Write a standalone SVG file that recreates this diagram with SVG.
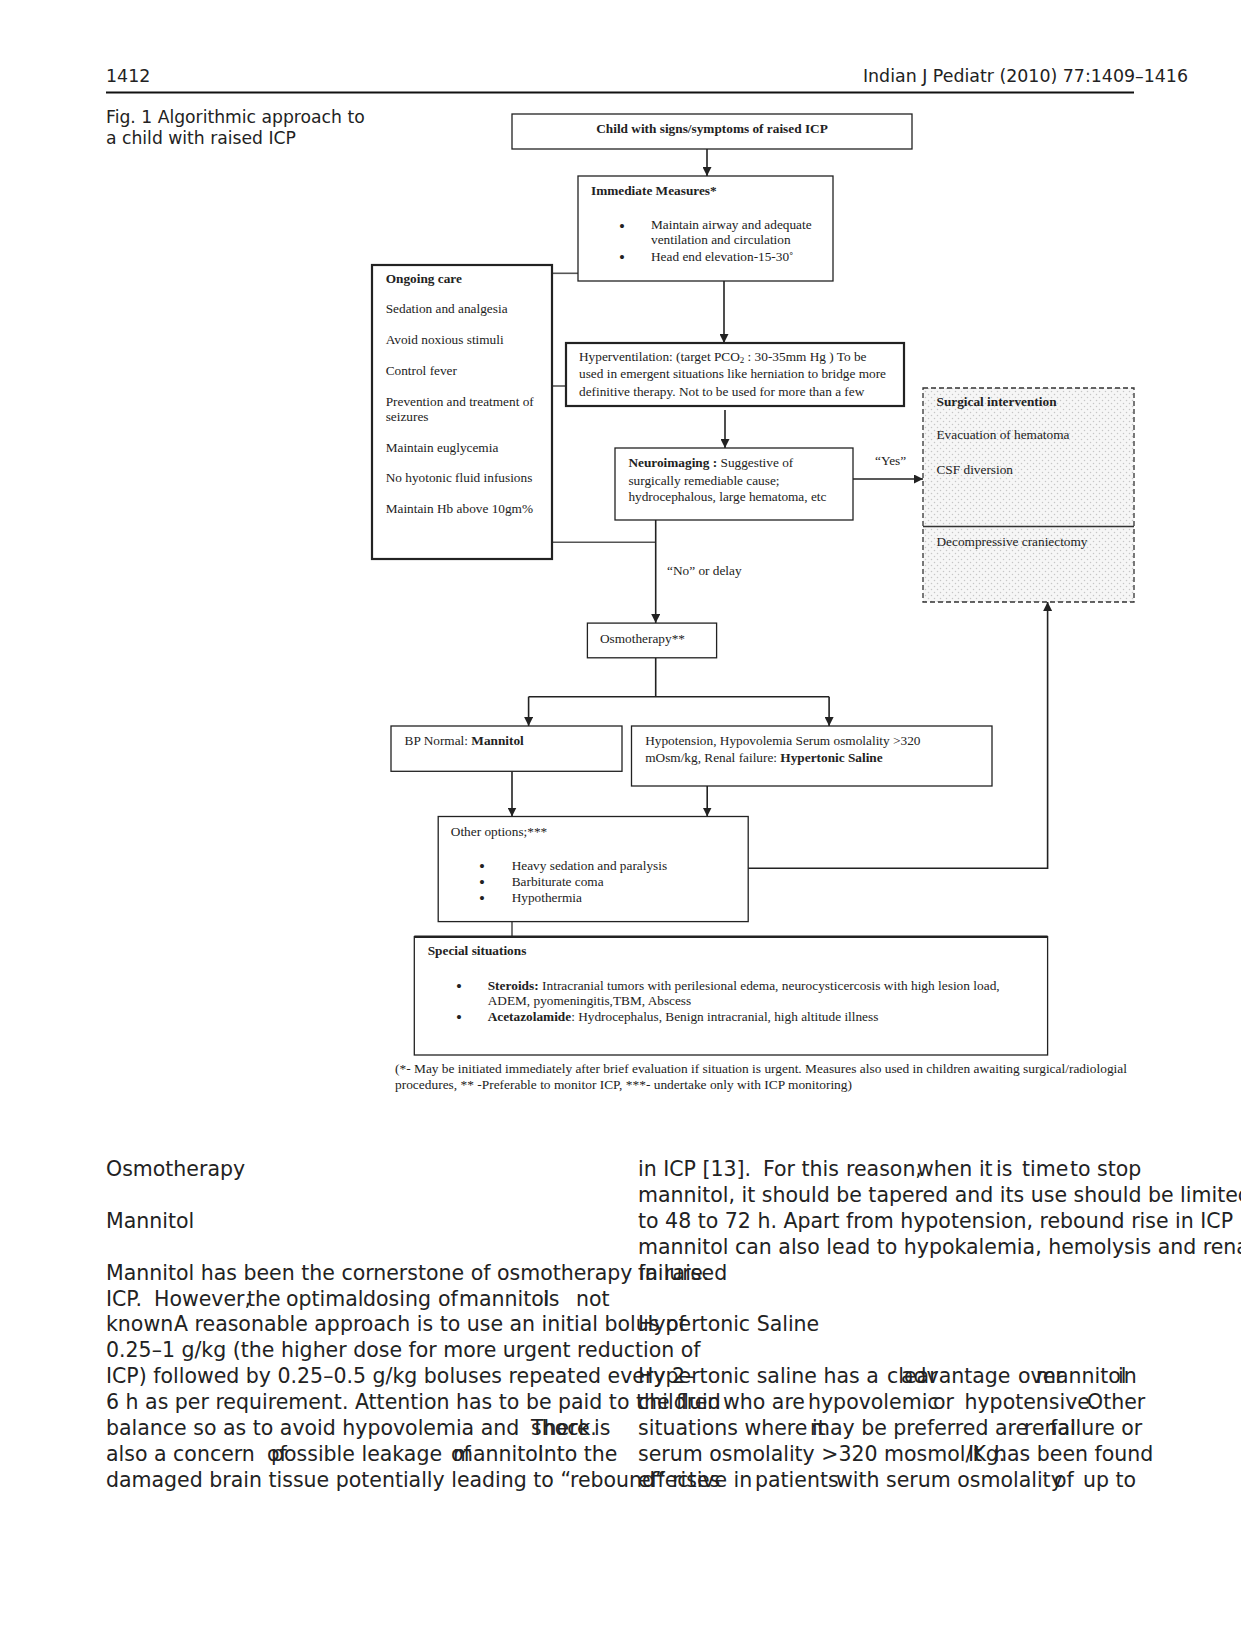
<svg xmlns="http://www.w3.org/2000/svg" width="1241" height="1648" viewBox="0 0 1241 1648">
<style>
.hdr{font-family:"DejaVu Sans",sans-serif;font-size:17.4px;fill:#222}
.cap{font-family:"DejaVu Sans",sans-serif;font-size:17.2px;fill:#222}
.body{font-family:"DejaVu Sans",sans-serif;font-size:20.5px;fill:#222}
.t{font-family:"Liberation Serif",serif;font-size:13.3px;fill:#222}
.bu{font-family:"Liberation Serif",serif;font-size:17px;fill:#222}
.b{font-weight:bold}
.box{fill:#fff;stroke:#222;stroke-width:1.3}
.boxk{fill:#fff;stroke:#222;stroke-width:2.2}
.ln{fill:none;stroke:#222;stroke-width:1.6}
.lg{fill:none;stroke:#555;stroke-width:1.6}
.arr{fill:none;stroke:#222;stroke-width:1.6;marker-end:url(#ah)}
</style>
<defs>
<marker id="ah" viewBox="0 0 10 10" refX="10" refY="5" markerWidth="9" markerHeight="9" markerUnits="userSpaceOnUse" orient="auto"><path d="M0,0 L10,5 L0,10 z" fill="#222"/></marker>
<pattern id="dots" width="6" height="6" patternUnits="userSpaceOnUse"><rect width="6" height="6" fill="#f6f6f6"/><circle cx="1.5" cy="1.5" r="0.75" fill="#c6c6c6"/><circle cx="4.5" cy="4.5" r="0.75" fill="#c6c6c6"/></pattern>
</defs>
<rect width="1241" height="1648" fill="#fff"/>

<g id="header">
<text class="hdr" x="106" y="82">1412</text>
<text class="hdr" x="1188" y="82" text-anchor="end">Indian J Pediatr (2010) 77:1409–1416</text>
<line x1="106" y1="92.5" x2="1134" y2="92.5" stroke="#111" stroke-width="2"/>
<text class="cap" x="106" y="123">Fig. 1 Algorithmic approach to</text>
<text class="cap" x="106" y="144">a child with raised ICP</text>
</g>

<g id="connectors">
<line class="arr" x1="707" y1="149" x2="707" y2="176"/>
<line class="lg" x1="552" y1="273.3" x2="578" y2="273.3"/>
<line class="arr" x1="724" y1="281" x2="724" y2="343"/>
<line class="lg" x1="552" y1="386" x2="566" y2="386"/>
<line class="arr" x1="725" y1="410" x2="725" y2="448"/>
<line class="arr" x1="853" y1="479" x2="923" y2="479"/>
<text class="t" x="875" y="465">“Yes”</text>
<line class="lg" x1="552" y1="542.3" x2="655.7" y2="542.3"/>
<line class="arr" x1="655.7" y1="520" x2="655.7" y2="623"/>
<text class="t" x="667" y="575">“No” or delay</text>
<path class="ln" d="M655.7,657.8 V696.7 M528.6,696.7 H829.1"/>
<line class="arr" x1="528.6" y1="696.7" x2="528.6" y2="726"/>
<line class="arr" x1="829.1" y1="696.7" x2="829.1" y2="726"/>
<line class="arr" x1="512" y1="771.3" x2="512" y2="816.5"/>
<line class="arr" x1="707.2" y1="786" x2="707.2" y2="816.5"/>
<path class="arr" d="M748.2,868.3 H1047.6 V602"/>
<line class="lg" x1="512" y1="921.6" x2="512" y2="936.7"/>
</g>

<g id="n-start">
<rect class="box" x="512" y="114" width="400" height="35"/>
<text class="t b" x="712" y="133" text-anchor="middle">Child with signs/symptoms of raised ICP</text>
</g>

<g id="n-immediate">
<rect class="box" x="578" y="176" width="255" height="105"/>
<text class="t b" x="591" y="194.5">Immediate Measures*</text>
<text class="bu" x="619" y="231.5">•</text>
<text class="t" x="651" y="229.3">Maintain airway and adequate</text>
<text class="t" x="651" y="244">ventilation and circulation</text>
<text class="bu" x="619" y="263">•</text>
<text class="t" x="651" y="261">Head end elevation-15-30˚</text>
</g>

<g id="n-ongoing">
<rect class="boxk" x="372" y="265" width="180" height="294"/>
<text class="t b" x="385.7" y="283">Ongoing care</text>
<text class="t" x="385.7" y="313.3">Sedation and analgesia</text>
<text class="t" x="385.7" y="344.3">Avoid noxious stimuli</text>
<text class="t" x="385.7" y="375">Control fever</text>
<text class="t" x="385.7" y="405.7">Prevention and treatment of</text>
<text class="t" x="385.7" y="421">seizures</text>
<text class="t" x="385.7" y="451.7">Maintain euglycemia</text>
<text class="t" x="385.7" y="482.3">No hyotonic fluid infusions</text>
<text class="t" x="385.7" y="513.3">Maintain Hb above 10gm%</text>
</g>

<g id="n-hyper">
<rect class="boxk" x="566" y="343" width="338" height="63" stroke-width="1.8"/>
<text class="t" x="579" y="361">Hyperventilation: (target PCO<tspan font-size="9" dy="2">2</tspan><tspan dy="-2"> : 30-35mm Hg ) To be</tspan></text>
<text class="t" x="579" y="378.3">used in emergent situations like herniation to bridge more</text>
<text class="t" x="579" y="395.7">definitive therapy. Not to be used for more than a few</text>
</g>

<g id="n-neuro">
<rect class="box" x="615" y="448" width="238" height="72"/>
<text class="t" x="628.4" y="466.6"><tspan class="b">Neuroimaging :</tspan> Suggestive of</text>
<text class="t" x="628.4" y="484.5">surgically remediable cause;</text>
<text class="t" x="628.4" y="501.3">hydrocephalous, large hematoma, etc</text>
</g>

<g id="n-surgical">
<rect x="923" y="388" width="211" height="214" fill="url(#dots)" stroke="#333" stroke-width="1.3" stroke-dasharray="5,3"/>
<line x1="923" y1="526.5" x2="1134" y2="526.5" stroke="#333" stroke-width="1.3"/>
<text class="t b" x="936.5" y="405.7">Surgical intervention</text>
<text class="t" x="936.5" y="439.3">Evacuation of hematoma</text>
<text class="t" x="936.5" y="474.3">CSF diversion</text>
<text class="t" x="936.5" y="545.7">Decompressive craniectomy</text>
</g>

<g id="n-osmo">
<rect class="box" x="587.4" y="623.1" width="129.2" height="34.7"/>
<text class="t" x="600" y="642.5">Osmotherapy**</text>
</g>

<g id="n-bp">
<rect class="box" x="391" y="726" width="231" height="45.3"/>
<text class="t" x="404.6" y="745.1">BP Normal: <tspan class="b">Mannitol</tspan></text>
</g>

<g id="n-hypo">
<rect class="box" x="631.5" y="726" width="360.5" height="60"/>
<text class="t" x="645.2" y="745.1">Hypotension, Hypovolemia Serum osmolality &gt;320</text>
<text class="t" x="645.2" y="762">mOsm/kg, Renal failure: <tspan class="b">Hypertonic Saline</tspan></text>
</g>

<g id="n-other">
<rect class="box" x="438.2" y="816.5" width="310" height="105.1"/>
<text class="t" x="450.8" y="835.5">Other options;***</text>
<text class="bu" x="479" y="872">•</text>
<text class="t" x="511.7" y="870">Heavy sedation and paralysis</text>
<text class="bu" x="479" y="888">•</text>
<text class="t" x="511.7" y="886">Barbiturate coma</text>
<text class="bu" x="479" y="903.7">•</text>
<text class="t" x="511.7" y="901.7">Hypothermia</text>
</g>

<g id="n-special">
<rect class="box" x="414.3" y="936.7" width="633.3" height="118.3"/>
<line x1="414.3" y1="936.7" x2="1047.6" y2="936.7" stroke="#222" stroke-width="2.6"/>
<text class="t b" x="427.7" y="955">Special situations</text>
<text class="bu" x="456" y="992">•</text>
<text class="t" x="487.7" y="990" textLength="512" lengthAdjust="spacingAndGlyphs"><tspan class="b">Steroids:</tspan> Intracranial tumors with perilesional edema, neurocysticercosis with high lesion load,</text>
<text class="t" x="487.7" y="1005">ADEM, pyomeningitis,TBM, Abscess</text>
<text class="bu" x="456" y="1023">•</text>
<text class="t" x="487.7" y="1021"><tspan class="b">Acetazolamide</tspan>: Hydrocephalus, Benign intracranial, high altitude illness</text>
</g>

<g id="footnote">
<text class="t" x="395" y="1073" textLength="732" lengthAdjust="spacingAndGlyphs">(*- May be initiated immediately after brief evaluation if situation is urgent. Measures also used in children awaiting surgical/radiologial</text>
<text class="t" x="395" y="1088.7" textLength="457" lengthAdjust="spacingAndGlyphs">procedures, ** -Preferable to monitor ICP, ***- undertake only with ICP monitoring)</text>
</g>

<g id="body-left">
<text class="body" x="106" y="1176">Osmotherapy</text>
<text class="body" x="106" y="1227.8">Mannitol</text>
<text class="body" x="106" y="1279.6">Mannitol has been the cornerstone of osmotherapy in raised</text>
<text class="body" y="1305.5"><tspan x="106">ICP.</tspan><tspan x="154">However,</tspan><tspan x="247">the</tspan><tspan x="286">optimal</tspan><tspan x="363">dosing</tspan><tspan x="438">of</tspan><tspan x="459">mannitol</tspan><tspan x="543">is</tspan><tspan x="576">not</tspan></text>
<text class="body" y="1331.4"><tspan x="106">known</tspan><tspan x="174">A reasonable approach is to use an initial bolus of</tspan></text>
<text class="body" x="106" y="1357.3">0.25–1 g/kg (the higher dose for more urgent reduction of</text>
<text class="body" x="106" y="1383.2">ICP) followed by 0.25–0.5 g/kg boluses repeated every 2–</text>
<text class="body" x="106" y="1409.1">6 h as per requirement. Attention has to be paid to the fluid</text>
<text class="body" y="1435"><tspan x="106">balance so as to avoid hypovolemia and</tspan><tspan x="531">shock.</tspan></text>
<text class="body" y="1435"><tspan x="531">There</tspan><tspan x="594">is</tspan></text>
<text class="body" y="1460.9"><tspan x="106">also a concern</tspan><tspan x="267">of</tspan></text>
<text class="body" y="1460.9"><tspan x="271">possible leakage</tspan><tspan x="451">of</tspan></text>
<text class="body" y="1460.9"><tspan x="453">mannitol</tspan><tspan x="538">into the</tspan></text>
<text class="body" x="106" y="1486.8">damaged brain tissue potentially leading to “rebound” rises</text>
</g>

<g id="body-right">
<text class="body" y="1176"><tspan x="638">in ICP [13].</tspan><tspan x="763">For this</tspan><tspan x="846">reason,</tspan><tspan x="917">when it</tspan><tspan x="996">is</tspan><tspan x="1022">time</tspan><tspan x="1070">to stop</tspan></text>
<text class="body" x="638" y="1201.9">mannitol, it should be tapered and its use should be limited</text>
<text class="body" x="638" y="1227.8">to 48 to 72 h. Apart from hypotension, rebound rise in ICP</text>
<text class="body" x="638" y="1253.7">mannitol can also lead to hypokalemia, hemolysis and renal</text>
<text class="body" x="638" y="1279.6">failure.</text>
<text class="body" x="638" y="1331.4">Hypertonic Saline</text>
<text class="body" y="1383.2"><tspan x="638">Hypertonic saline has a</tspan><tspan x="887">clear</tspan></text>
<text class="body" y="1383.2"><tspan x="901">advantage</tspan><tspan x="1018">over</tspan></text>
<text class="body" y="1383.2"><tspan x="1036">mannitol</tspan></text>
<text class="body" y="1383.2"><tspan x="1118">in</tspan></text>
<text class="body" y="1409.1"><tspan x="638">children</tspan><tspan x="723">who are</tspan><tspan x="808">hypovolemic</tspan></text>
<text class="body" y="1409.1"><tspan x="933">or</tspan><tspan x="964.5">hypotensive.</tspan></text>
<text class="body" y="1409.1"><tspan x="1087">Other</tspan></text>
<text class="body" y="1435"><tspan x="638">situations where</tspan><tspan x="812">it</tspan></text>
<text class="body" y="1435"><tspan x="810">may be preferred are</tspan><tspan x="1024">renal</tspan></text>
<text class="body" y="1435"><tspan x="1050">failure or</tspan></text>
<text class="body" y="1460.9"><tspan x="638">serum osmolality &gt;320 mosmol/Kg.</tspan></text>
<text class="body" y="1460.9"><tspan x="968">It</tspan><tspan x="994">has been found</tspan></text>
<text class="body" y="1486.8"><tspan x="638">effective in</tspan><tspan x="755">patients</tspan><tspan x="836">with serum osmolality</tspan></text>
<text class="body" y="1486.8"><tspan x="1054">of</tspan><tspan x="1083">up to</tspan></text>
</g>
</svg>
